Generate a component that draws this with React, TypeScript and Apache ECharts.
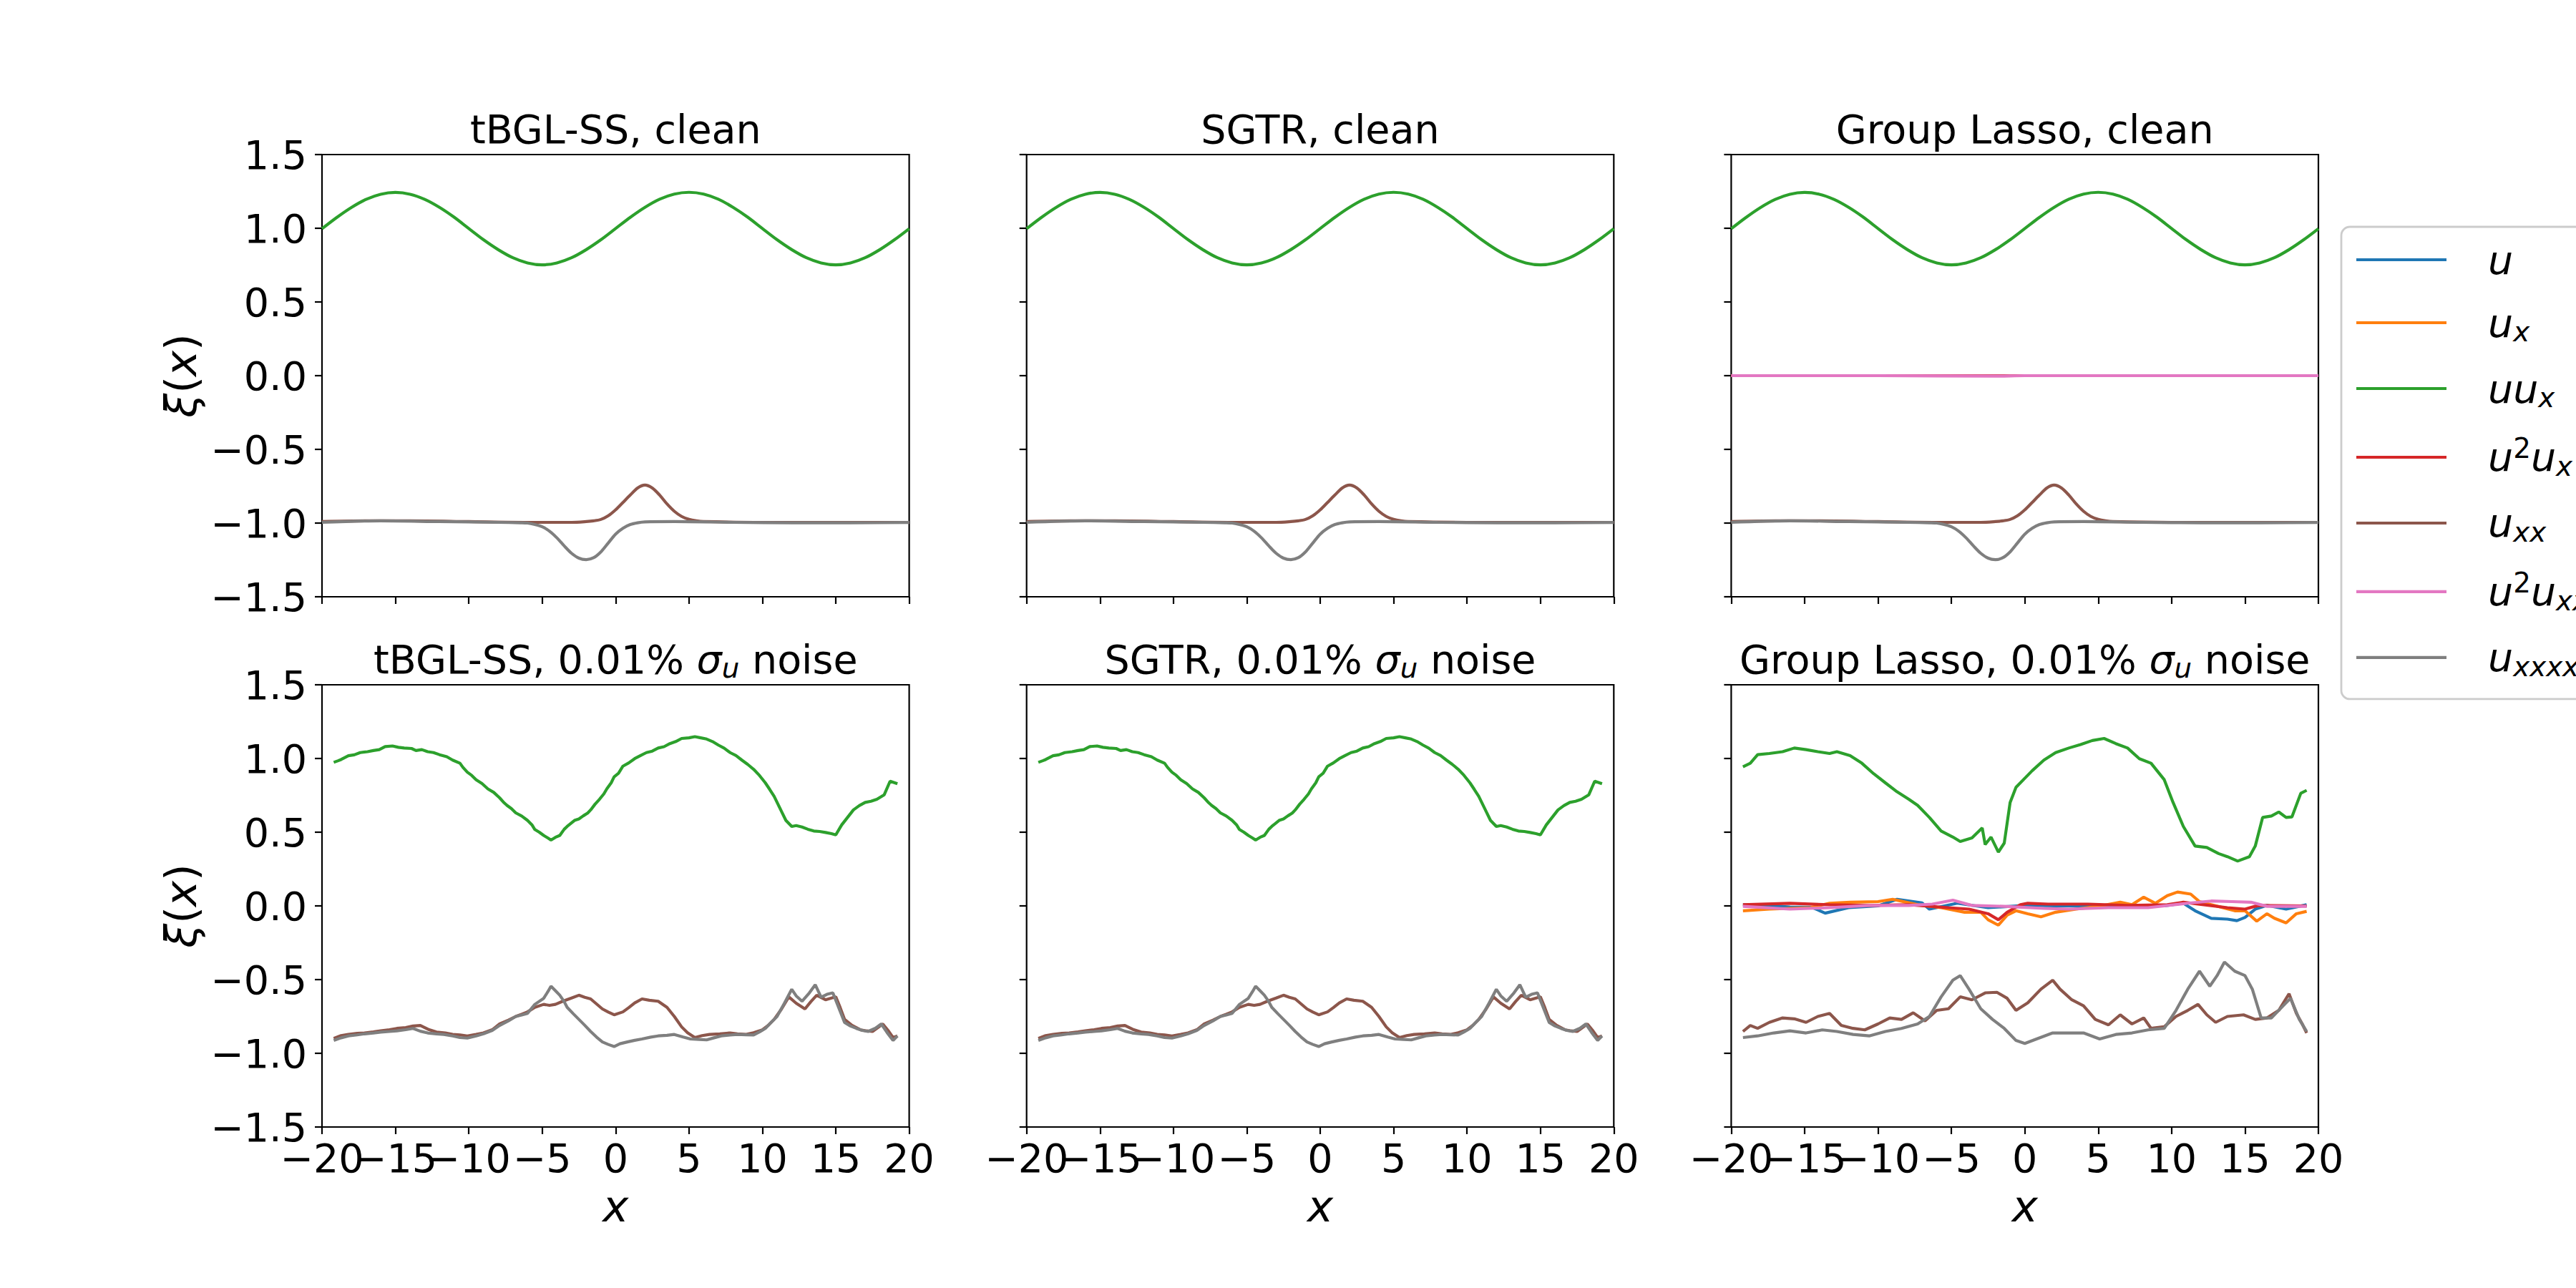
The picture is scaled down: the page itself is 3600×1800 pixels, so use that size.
import React, { useEffect, useRef } from 'react';
import * as echarts from 'echarts';

// ---------- terms / legend ----------
const termNames = ['u', 'u_x', 'uu_x', 'u2u_x', 'u_xx', 'u2u_xxx', 'u_xxxx'];
const termColors = ['#1f77b4', '#ff7f0e', '#2ca02c', '#d62728', '#8c564b', '#e377c2', '#7f7f7f'];
const termLegendLabels = [
  '{sp| }{i|u}',
  '{sp| }{i|u}{s|x}',
  '{sp| }{i|uu}{s|x}',
  '{sp| }{i|u}{p|2}{i|u}{s|x}',
  '{sp| }{i|u}{s|xx}',
  '{sp| }{i|u}{p|2}{i|u}{s|xxx}',
  '{sp| }{i|u}{s|xxxx}',
];

const panelTitles = [
  '{n|tBGL-SS, clean}',
  '{n|SGTR, clean}',
  '{n|Group Lasso, clean}',
  '{n|tBGL-SS, 0.01% }{i|σ}{s|u}{n| noise}',
  '{n|SGTR, 0.01% }{i|σ}{s|u}{n| noise}',
  '{n|Group Lasso, 0.01% }{i|σ}{s|u}{n| noise}',
];
const yAxisLabel = '{i|ξ}{n|(}{i|x}{n|)}';
const xAxisLabel = '{i|x}';

const xRange = [-20, 20];
const xStep = 5;
const xTickLabelsA = [-20, -10, 0, 10, 20];
const xTickLabelsB = [-15, -5, 5, 15];
const yRange = [-1.5, 1.5];
const yStep = 0.5;

// ---------- clean data (top row) ----------
const cleanX = [-20, -19, -18, -17, -16, -15, -14, -13, -12, -11, -10, -9, -8, -7, -6, -5, -4, -3, -2, -1, 0,
  1, 2, 3, 4, 5, 6, 7, 8, 9, 10, 11, 12, 13, 14, 15, 16, 17, 18, 19, 20];
const cleanUuxY = [0.997, 1.073, 1.141, 1.196, 1.231, 1.243, 1.231, 1.196, 1.142, 1.075, 0.998, 0.922, 0.855, 0.8, 0.765, 0.752, 0.765, 0.8, 0.855, 0.922, 0.998,
  1.074, 1.142, 1.197, 1.232, 1.244, 1.232, 1.197, 1.142, 1.075, 0.998, 0.922, 0.855, 0.8, 0.765, 0.752, 0.765, 0.8, 0.855, 0.922, 0.997];
const cleanUxx = [[-20, -0.99], [-17, -0.985], [-14, -0.985], [-10, -0.99], [-6, -0.995], [-3, -0.995], [-2, -0.99],
  [-1.5, -0.985], [-1, -0.975], [-0.5, -0.95], [0, -0.91], [0.5, -0.86], [1, -0.81], [1.5, -0.762], [2, -0.742],
  [2.5, -0.762], [3, -0.81], [3.5, -0.87], [4, -0.92], [4.5, -0.955], [5, -0.975], [5.5, -0.985], [6, -0.99],
  [10, -0.995], [15, -0.995], [20, -0.995]];
const cleanUxxxx = [[-20, -0.995], [-16, -0.985], [-12, -0.99], [-8, -0.995], [-6.5, -0.998], [-6, -1.0], [-5.5, -1.01],
  [-5, -1.025], [-4.5, -1.055], [-4, -1.1], [-3.5, -1.155], [-3, -1.205], [-2.5, -1.238], [-2, -1.248], [-1.5, -1.235],
  [-1, -1.195], [-0.5, -1.135], [0, -1.075], [0.5, -1.035], [1, -1.01], [1.5, -0.998], [2, -0.992], [4, -0.99],
  [8, -0.995], [12, -0.998], [16, -0.998], [20, -0.996]];
const glCleanU = [[-20, 0], [-10, 0], [0, 0], [10, 0], [20, 0]];
const glCleanUx = [[-20, 0], [-10, 0], [0, 0], [10, 0], [20, 0]];
const glCleanU2ux = [[-20, 0], [-10, 0], [0, 0], [10, 0], [20, 0]];
const glCleanU2uxxx = [[-20, 0], [-10, 0], [-2, -0.003], [0, 0], [10, 0], [20, 0]];

// ---------- noisy data: tBGL-SS (and SGTR, identical in the picture) ----------
const tbglNoisyUux = [[-19.2, 0.974], [-18.9, 0.985], [-18.7, 0.993], [-18.2, 1.019], [-17.8, 1.025], [-17.4, 1.04],
  [-16.9, 1.046], [-16.5, 1.054], [-16.1, 1.06], [-15.7, 1.081], [-15.2, 1.085], [-14.8, 1.076], [-14.4, 1.071],
  [-13.9, 1.068], [-13.6, 1.054], [-13.2, 1.06], [-12.8, 1.046], [-12.4, 1.04], [-12.0, 1.026], [-11.5, 1.012],
  [-11.1, 0.989], [-10.6, 0.968], [-10.4, 0.94], [-10.1, 0.907], [-9.8, 0.885], [-9.5, 0.856], [-9.1, 0.83],
  [-8.7, 0.794], [-8.3, 0.77], [-7.9, 0.733], [-7.6, 0.7], [-7.4, 0.682], [-7.1, 0.66], [-6.8, 0.631], [-6.4, 0.61],
  [-6.0, 0.58], [-5.7, 0.55], [-5.5, 0.518], [-5.2, 0.5], [-4.9, 0.478], [-4.6, 0.46], [-4.4, 0.447], [-4.1, 0.465],
  [-3.8, 0.478], [-3.5, 0.52], [-3.3, 0.539], [-2.8, 0.58], [-2.5, 0.59], [-2.2, 0.611], [-1.9, 0.63], [-1.7, 0.651],
  [-1.4, 0.69], [-1.1, 0.723], [-0.8, 0.76], [-0.6, 0.794], [-0.3, 0.835], [-0.1, 0.876], [0.2, 0.9], [0.5, 0.948],
  [0.9, 0.97], [1.3, 0.999], [1.7, 1.02], [2.1, 1.04], [2.5, 1.05], [2.9, 1.071], [3.3, 1.08], [3.7, 1.101],
  [4.1, 1.115], [4.5, 1.136], [5.0, 1.14], [5.4, 1.148], [5.8, 1.14], [6.2, 1.132], [6.6, 1.115], [7.0, 1.091],
  [7.4, 1.07], [7.8, 1.04], [8.2, 1.02], [8.6, 0.989], [9.0, 0.96], [9.4, 0.927], [9.8, 0.885], [10.2, 0.835],
  [10.5, 0.79], [10.8, 0.743], [11.3, 0.641], [11.6, 0.58], [12.0, 0.539], [12.3, 0.545], [12.7, 0.535],
  [13.1, 0.52], [13.5, 0.508], [13.9, 0.505], [14.3, 0.498], [14.7, 0.49], [15.0, 0.482], [15.4, 0.549],
  [15.8, 0.6], [16.2, 0.651], [16.6, 0.68], [17.0, 0.702], [17.4, 0.71], [17.8, 0.723], [18.3, 0.754],
  [18.7, 0.846], [19.2, 0.829]];
const tbglNoisyUxx = [[-19.2, -0.899], [-18.7, -0.88], [-18.2, -0.872], [-17.6, -0.865], [-17.1, -0.862],
  [-16.5, -0.855], [-16.0, -0.848], [-15.4, -0.84], [-14.9, -0.831], [-14.3, -0.825], [-13.8, -0.815],
  [-13.3, -0.811], [-12.7, -0.84], [-12.2, -0.856], [-11.6, -0.862], [-11.1, -0.872], [-10.6, -0.875],
  [-10.1, -0.882], [-9.5, -0.872], [-9.0, -0.862], [-8.4, -0.84], [-7.9, -0.801], [-7.3, -0.775], [-6.8, -0.75],
  [-6.4, -0.735], [-6.0, -0.719], [-5.5, -0.688], [-4.9, -0.668], [-4.5, -0.675], [-4.1, -0.668], [-3.6, -0.647],
  [-3.0, -0.625], [-2.5, -0.606], [-2.1, -0.62], [-1.7, -0.631], [-1.3, -0.665], [-0.9, -0.699], [-0.5, -0.72],
  [-0.1, -0.739], [0.5, -0.719], [0.9, -0.69], [1.3, -0.658], [1.8, -0.631], [2.3, -0.64], [2.9, -0.647],
  [3.5, -0.688], [4.0, -0.75], [4.5, -0.821], [4.9, -0.86], [5.4, -0.893], [5.9, -0.88], [6.4, -0.872],
  [7.1, -0.868], [7.8, -0.862], [8.3, -0.868], [8.9, -0.872], [9.4, -0.86], [10.0, -0.841], [10.4, -0.81],
  [10.8, -0.77], [11.3, -0.7], [11.8, -0.617], [12.3, -0.66], [12.9, -0.699], [13.3, -0.65], [13.7, -0.606],
  [14.3, -0.637], [15.0, -0.617], [15.3, -0.69], [15.6, -0.77], [16.1, -0.81], [16.7, -0.841], [17.1, -0.848],
  [17.5, -0.852], [18.2, -0.801], [18.6, -0.85], [18.9, -0.893], [19.2, -0.882]];
const tbglNoisyUxxxx = [[-19.2, -0.913], [-18.7, -0.895], [-18.2, -0.882], [-17.6, -0.875], [-17.1, -0.868],
  [-16.5, -0.862], [-16.0, -0.856], [-15.4, -0.852], [-14.9, -0.848], [-14.3, -0.84], [-13.8, -0.831],
  [-13.3, -0.85], [-12.8, -0.862], [-12.2, -0.868], [-11.7, -0.872], [-11.1, -0.882], [-10.6, -0.893],
  [-10.1, -0.897], [-9.5, -0.882], [-9.0, -0.868], [-8.4, -0.845], [-7.9, -0.811], [-7.3, -0.78], [-6.8, -0.75],
  [-6.4, -0.74], [-6.0, -0.729], [-5.5, -0.668], [-4.9, -0.627], [-4.6, -0.58], [-4.4, -0.545], [-4.1, -0.575],
  [-3.8, -0.606], [-3.5, -0.65], [-3.3, -0.688], [-2.9, -0.73], [-2.5, -0.77], [-2.1, -0.81], [-1.7, -0.852],
  [-1.3, -0.89], [-0.9, -0.923], [-0.5, -0.94], [-0.1, -0.954], [0.3, -0.935], [0.8, -0.923], [1.3, -0.912],
  [1.8, -0.903], [2.4, -0.89], [2.9, -0.882], [3.5, -0.878], [4.0, -0.872], [4.6, -0.89], [5.1, -0.903],
  [5.7, -0.906], [6.2, -0.909], [6.7, -0.895], [7.2, -0.882], [7.8, -0.876], [8.3, -0.872], [8.9, -0.874],
  [9.4, -0.876], [9.8, -0.855], [10.2, -0.831], [10.6, -0.79], [11.0, -0.75], [11.5, -0.66], [12.0, -0.566],
  [12.3, -0.61], [12.7, -0.647], [13.2, -0.59], [13.6, -0.535], [14.0, -0.62], [14.4, -0.6], [14.8, -0.59],
  [15.2, -0.69], [15.6, -0.791], [16.0, -0.815], [16.4, -0.831], [16.8, -0.845], [17.2, -0.852], [17.7, -0.83],
  [18.1, -0.801], [18.5, -0.86], [18.9, -0.913], [19.2, -0.882]];
const sgtrNoisyUux = tbglNoisyUux;
const sgtrNoisyUxx = tbglNoisyUxx;
const sgtrNoisyUxxxx = tbglNoisyUxxxx;

// ---------- noisy data: Group Lasso ----------
const glNoisyU = [[-19.2, 0.008], [-17.0, 0.0], [-16.0, -0.008], [-14.5, -0.01], [-13.6, -0.049], [-12.0, -0.012],
  [-10.0, 0.0], [-8.7, 0.045], [-7.0, 0.02], [-6.5, -0.022], [-4.6, 0.018], [-2.5, -0.012], [0.2, 0.004],
  [2.0, 0.0], [5.0, 0.0], [7.5, 0.0], [9.5, 0.0], [10.8, 0.018], [11.6, -0.033], [12.7, -0.084], [13.8, -0.09],
  [14.45, -0.1], [15.0, -0.078], [15.7, -0.022], [16.5, 0.004], [17.8, -0.022], [19.2, 0.008]];
const glNoisyUx = [[-19.2, -0.033], [-17.4, -0.022], [-14.6, -0.012], [-13.3, 0.018], [-11.9, 0.025], [-10.0, 0.029],
  [-9.0, 0.045], [-7.3, 0.008], [-5.7, -0.012], [-4.1, -0.043], [-3.0, -0.043], [-2.5, -0.094], [-1.8, -0.131],
  [-1.2, -0.063], [-0.6, -0.033], [0.2, -0.053], [1.1, -0.074], [2.1, -0.043], [3.5, -0.022], [5.1, -0.002],
  [6.5, 0.025], [7.3, 0.008], [8.1, 0.059], [8.9, 0.018], [9.7, 0.069], [10.4, 0.094], [11.3, 0.08], [11.9, 0.029],
  [12.7, 0.008], [14.3, -0.033], [15.0, -0.033], [15.8, -0.104], [16.5, -0.053], [17.0, -0.084], [17.8, -0.115],
  [18.5, -0.053], [19.2, -0.037]];
const glNoisyU2ux = [[-19.2, 0.008], [-16.0, 0.018], [-13.3, 0.008], [-10.6, 0.003], [-7.9, 0.008], [-5.2, -0.012],
  [-3.8, -0.022], [-2.5, -0.053], [-1.8, -0.094], [-1.2, -0.043], [-0.3, 0.008], [0.2, 0.018], [1.6, 0.012],
  [4.3, 0.012], [7.0, 0.003], [9.7, 0.008], [10.8, 0.025], [12.2, 0.008], [13.8, -0.012], [15.0, -0.022],
  [15.9, 0.003], [19.2, -0.001]];
const glNoisyUux = [[-19.2, 0.944], [-18.7, 0.968], [-18.2, 1.026], [-17.4, 1.034], [-16.5, 1.046], [-15.7, 1.071],
  [-14.9, 1.06], [-14.1, 1.046], [-13.3, 1.034], [-12.8, 1.046], [-11.9, 1.019], [-11.1, 0.968], [-10.3, 0.897],
  [-9.5, 0.835], [-8.7, 0.774], [-7.9, 0.723], [-7.3, 0.682], [-6.5, 0.6], [-5.7, 0.508], [-4.9, 0.467],
  [-4.4, 0.437], [-3.6, 0.461], [-2.9, 0.529], [-2.7, 0.416], [-2.3, 0.467], [-1.8, 0.365], [-1.4, 0.426],
  [-1.0, 0.702], [-0.6, 0.805], [0.0, 0.866], [0.5, 0.917], [1.3, 0.989], [2.1, 1.04], [3.0, 1.071], [3.8, 1.095],
  [4.6, 1.122], [5.4, 1.136], [6.2, 1.101], [7.0, 1.071], [7.8, 0.999], [8.6, 0.968], [9.5, 0.856], [10.1, 0.702],
  [10.8, 0.539], [11.6, 0.406], [12.4, 0.396], [13.2, 0.355], [13.8, 0.334], [14.5, 0.304], [15.3, 0.334],
  [15.7, 0.406], [16.2, 0.6], [16.8, 0.61], [17.3, 0.637], [17.8, 0.6], [18.2, 0.604], [18.8, 0.764], [19.2, 0.784]];
const glNoisyUxx = [[-19.2, -0.852], [-18.7, -0.811], [-18.2, -0.831], [-17.4, -0.79], [-16.5, -0.76], [-15.7, -0.766],
  [-14.9, -0.79], [-14.1, -0.75], [-13.3, -0.729], [-12.5, -0.811], [-11.7, -0.831], [-10.9, -0.841], [-10.0, -0.801],
  [-9.2, -0.76], [-8.4, -0.77], [-7.6, -0.725], [-6.8, -0.78], [-6.0, -0.709], [-5.2, -0.698], [-4.4, -0.617],
  [-3.6, -0.637], [-2.7, -0.59], [-1.9, -0.586], [-1.2, -0.627], [-0.6, -0.709], [0.2, -0.658], [1.1, -0.565],
  [1.9, -0.504], [2.4, -0.565], [3.2, -0.637], [4.0, -0.678], [4.8, -0.77], [5.7, -0.807], [6.5, -0.739],
  [7.3, -0.801], [8.1, -0.76], [8.6, -0.831], [9.5, -0.82], [10.3, -0.75], [11.1, -0.709], [11.8, -0.668],
  [12.4, -0.739], [13.0, -0.79], [13.8, -0.75], [14.9, -0.739], [15.7, -0.77], [16.5, -0.76], [17.3, -0.709],
  [18.0, -0.596], [18.5, -0.729], [18.9, -0.801], [19.2, -0.862]];
const glNoisyU2uxxx = [[-19.2, -0.003], [-16.0, -0.022], [-13.3, -0.012], [-10.6, 0.003], [-7.9, 0.003], [-6.3, 0.012],
  [-4.9, 0.039], [-3.6, 0.003], [-1.4, -0.003], [1.3, -0.017], [3.0, -0.022], [5.7, -0.012], [8.4, -0.012],
  [11.1, 0.018], [12.7, 0.033], [14.1, 0.029], [15.4, 0.025], [16.5, -0.003], [19.2, -0.003]];
const glNoisyUxxxx = [[-19.2, -0.893], [-18.2, -0.882], [-17.1, -0.862], [-16.0, -0.848], [-14.9, -0.862],
  [-13.8, -0.841], [-12.8, -0.852], [-11.7, -0.872], [-10.6, -0.882], [-9.5, -0.852], [-8.4, -0.831], [-7.3, -0.801],
  [-6.5, -0.75], [-5.7, -0.617], [-4.9, -0.504], [-4.4, -0.473], [-3.8, -0.565], [-3.0, -0.698], [-2.2, -0.77],
  [-1.4, -0.831], [-0.6, -0.913], [0.0, -0.933], [0.8, -0.903], [1.9, -0.862], [3.0, -0.862], [4.0, -0.862],
  [5.1, -0.903], [6.2, -0.872], [7.3, -0.862], [8.4, -0.841], [9.5, -0.831], [10.3, -0.709], [11.1, -0.565],
  [11.9, -0.443], [12.6, -0.545], [13.1, -0.473], [13.6, -0.381], [14.3, -0.443], [15.0, -0.473], [15.5, -0.565],
  [16.1, -0.76], [16.8, -0.76], [17.6, -0.678], [18.1, -0.627], [18.7, -0.77], [19.2, -0.852]];

// ---------- layout constants ----------
const FONT = 'DejaVu Sans';
const FS = 55.5;
const LFS = 61;
const GRID_LEFTS = [450, 1434.7, 2419.4];
const GRID_TOPS = [216, 957];
const GRID_W = 820.6;
const GRID_H = 618;

const zip = (xs: number[], ys: number[]) => xs.map((x, i) => [x, ys[i]]);

const panels = [
  { smooth: true, lines: [[2, zip(cleanX, cleanUuxY)], [4, cleanUxx], [6, cleanUxxxx]] },
  { smooth: true, lines: [[2, zip(cleanX, cleanUuxY)], [4, cleanUxx], [6, cleanUxxxx]] },
  { smooth: true, lines: [[0, glCleanU], [1, glCleanUx], [2, zip(cleanX, cleanUuxY)], [3, glCleanU2ux], [4, cleanUxx], [5, glCleanU2uxxx], [6, cleanUxxxx]] },
  { smooth: false, lines: [[2, tbglNoisyUux], [4, tbglNoisyUxx], [6, tbglNoisyUxxxx]] },
  { smooth: false, lines: [[2, sgtrNoisyUux], [4, sgtrNoisyUxx], [6, sgtrNoisyUxxxx]] },
  { smooth: false, lines: [[0, glNoisyU], [1, glNoisyUx], [2, glNoisyUux], [3, glNoisyU2ux], [4, glNoisyUxx], [5, glNoisyU2uxxx], [6, glNoisyUxxxx]] },
];

function makeRich(size: number, spacer = 45) {
  const sub = size * 0.7;
  const L = size * 1.153;
  return {
    n: { fontFamily: FONT, fontSize: size, lineHeight: L, color: '#000' },
    i: { fontFamily: FONT, fontSize: size, fontStyle: 'italic', lineHeight: L, color: '#000' },
    s: { fontFamily: FONT, fontSize: sub, fontStyle: 'italic', lineHeight: L - size * 0.53, verticalAlign: 'bottom', color: '#000' },
    p: { fontFamily: FONT, fontSize: sub, lineHeight: L - size * 0.66, verticalAlign: 'top', color: '#000' },
    sp: { fontFamily: FONT, fontSize: size, width: spacer, lineHeight: L },
  };
}

const minusStr = (v: number) => String(v).replace('-', '\u2212');
const pickFmt = (allowed: number[]) => (v: number) =>
  allowed.some((a) => Math.abs(a - v) < 1e-9) ? minusStr(v) : '';
const minusFmt1 = (v: number) => (Math.abs(v) < 1e-9 ? '0.0' : v.toFixed(1).replace('-', '\u2212'));

function buildOption() {
  const grid: any[] = [];
  const xAxis: any[] = [];
  const yAxis: any[] = [];
  const series: any[] = [];
  const graphic: any[] = [];
  const tickStyle = { show: true, inside: false, length: 10, lineStyle: { color: '#000', width: 2.2 } };
  const xLabelBase = {
    margin: 15, color: '#000', fontFamily: FONT, fontSize: FS, lineHeight: 56,
    showMinLabel: true, showMaxLabel: true, hideOverlap: false,
  };

  panels.forEach((p, idx) => {
    const col = idx % 3;
    const row = Math.floor(idx / 3);
    grid.push({
      left: GRID_LEFTS[col], top: GRID_TOPS[row], width: GRID_W, height: GRID_H,
      show: true, borderColor: '#000', borderWidth: 2.2, backgroundColor: 'transparent', containLabel: false,
    });
    // main x axis (ticks + every other label)
    xAxis.push({
      type: 'value', gridIndex: idx, position: 'bottom', min: xRange[0], max: xRange[1], interval: xStep,
      axisLine: { show: false, onZero: false }, axisTick: tickStyle, splitLine: { show: false },
      axisLabel: { ...xLabelBase, show: row === 1, formatter: pickFmt(xTickLabelsA) },
    });
    // companion x axis carrying the remaining tick labels
    xAxis.push({
      type: 'value', gridIndex: idx, position: 'bottom', offset: 0, min: xRange[0], max: xRange[1], interval: xStep,
      axisLine: { show: false, onZero: false }, axisTick: { show: false }, splitLine: { show: false },
      axisLabel: { ...xLabelBase, show: row === 1, formatter: pickFmt(xTickLabelsB) },
    });
    yAxis.push({
      type: 'value', gridIndex: idx, min: yRange[0], max: yRange[1], interval: yStep,
      axisLine: { show: false, onZero: false }, axisTick: tickStyle, splitLine: { show: false },
      axisLabel: {
        show: col === 0, margin: 21, color: '#000', fontFamily: FONT, fontSize: FS,
        formatter: minusFmt1, showMinLabel: true, showMaxLabel: true, hideOverlap: false,
      },
    });
    (p.lines as any[]).forEach(([t, data]) => {
      series.push({
        type: 'line', name: termNames[t], xAxisIndex: idx * 2, yAxisIndex: idx, data,
        showSymbol: false, symbol: 'none', smooth: p.smooth ? 0.3 : false, clip: true, silent: true,
        lineStyle: { width: 4.17, color: termColors[t] }, itemStyle: { color: termColors[t] },
        emphasis: { disabled: true },
      });
    });
    const cx = GRID_LEFTS[col] + GRID_W / 2;
    graphic.push({
      type: 'text', x: cx, y: row === 0 ? 180 : 921, silent: true,
      style: {
        text: panelTitles[idx], rich: makeRich(FS), fontFamily: FONT, fontSize: FS, fill: '#000',
        align: 'center', verticalAlign: 'middle', textAlign: 'center', textVerticalAlign: 'middle',
      },
    });
    if (col === 0) {
      graphic.push({
        type: 'text', x: 252, y: GRID_TOPS[row] + GRID_H / 2, rotation: Math.PI / 2, silent: true,
        style: {
          text: yAxisLabel, rich: makeRich(LFS), fontFamily: FONT, fontSize: LFS, fill: '#000',
          align: 'center', verticalAlign: 'middle', textAlign: 'center', textVerticalAlign: 'middle',
        },
      });
    }
    if (row === 1) {
      graphic.push({
        type: 'text', x: cx, y: 1685, silent: true,
        style: {
          text: xAxisLabel, rich: makeRich(LFS), fontFamily: FONT, fontSize: LFS, fill: '#000',
          align: 'center', verticalAlign: 'middle', textAlign: 'center', textVerticalAlign: 'middle',
        },
      });
    }
  });

  const legendRich = makeRich(FS, 53);
  return {
    animation: false,
    backgroundColor: '#ffffff',
    textStyle: { fontFamily: FONT },
    grid, xAxis, yAxis, series, graphic,
    legend: {
      orient: 'vertical', left: 3272, top: 317,
      data: termNames, icon: 'rect', itemWidth: 126, itemHeight: 4.2, itemGap: 32,
      selectedMode: false,
      padding: [18, 24, 26, 21],
      backgroundColor: 'rgba(255,255,255,0.8)', borderColor: '#cccccc', borderWidth: 2.8, borderRadius: 12,
      formatter: (name: string) => termLegendLabels[termNames.indexOf(name)],
      textStyle: { fontFamily: FONT, fontSize: FS, color: '#000', rich: legendRich },
    },
  };
}

export default function App() {
  const ref = useRef<HTMLDivElement>(null);
  useEffect(() => {
    document.body.style.margin = '0';
    if (!ref.current) return;
    const chart = echarts.init(ref.current, undefined, { renderer: 'svg' });
    chart.setOption(buildOption() as any);
    return () => chart.dispose();
  }, []);
  return <div ref={ref} style={{ width: 3600, height: 1800, background: '#fff' }} />;
}
